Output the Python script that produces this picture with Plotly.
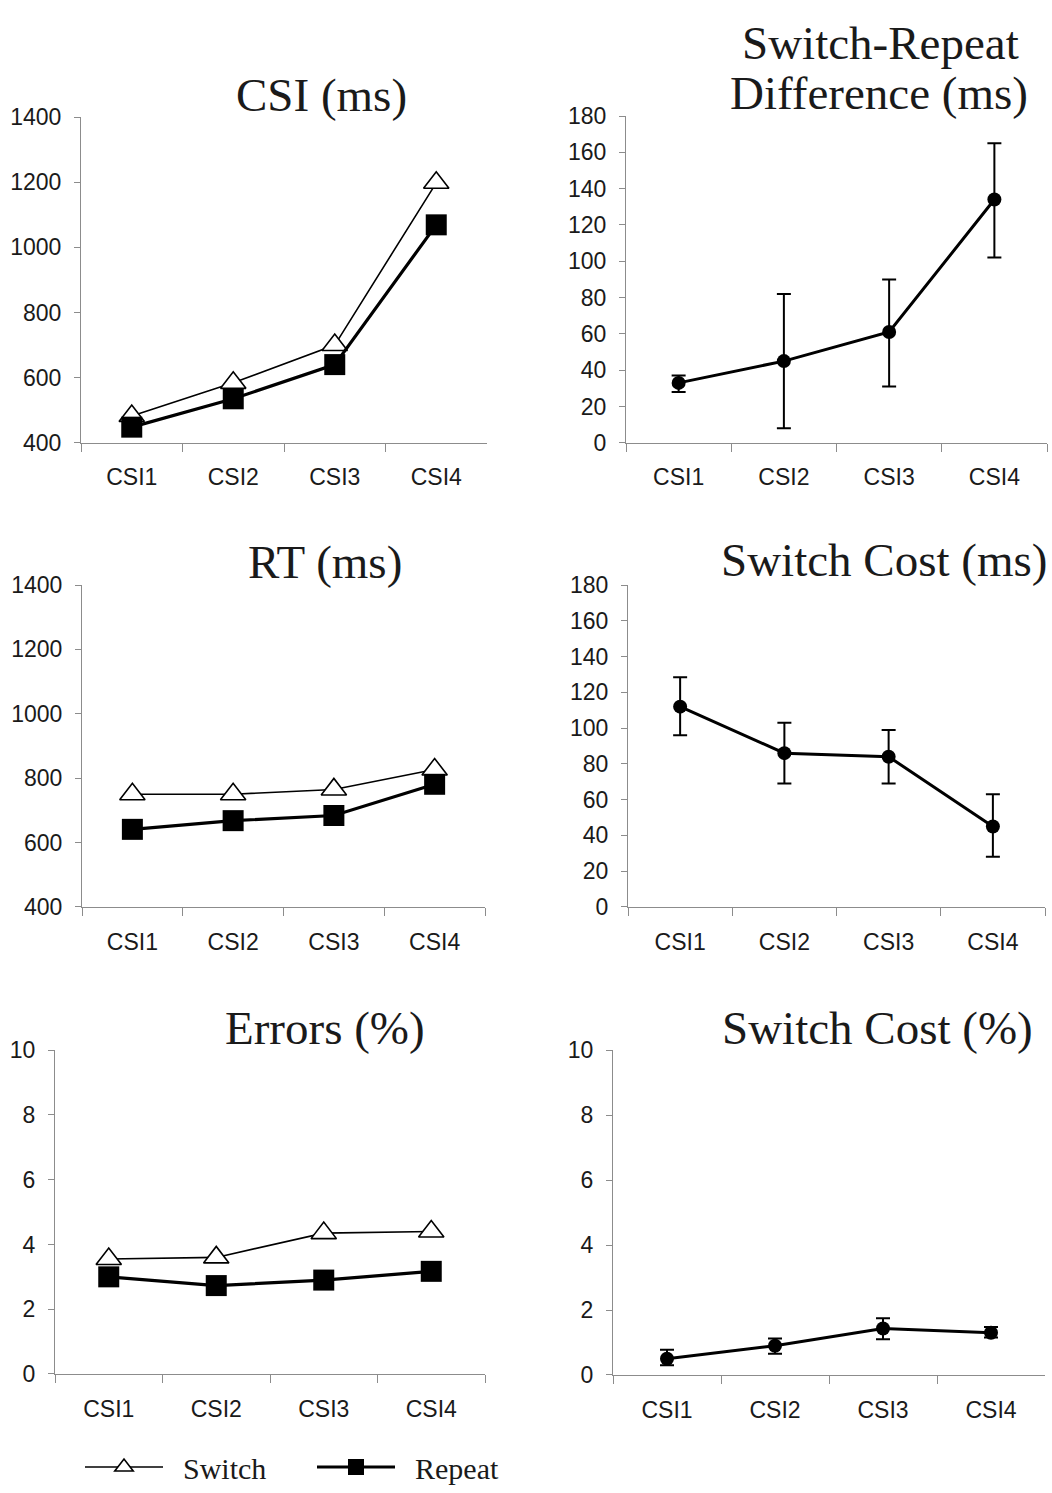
import plotly.graph_objects as go

W, H = 1052, 1493

categories = ["CSI1", "CSI2", "CSI3", "CSI4"]

# Panel A: CSI (ms)
csi_switch = [482, 584, 700, 1198]
csi_repeat = [448, 535, 640, 1069]

# Panel B: Switch-Repeat difference (ms)
diff_mean = [33, 45, 61, 134]
diff_hi = [37, 82, 90, 165]
diff_lo = [28, 8, 31, 102]

# Panel C: RT (ms)
rt_switch = [750, 750, 765, 827]
rt_repeat = [641, 668, 684, 781]

# Panel D: Switch cost (ms)
cost_ms_mean = [112, 86, 84, 45]
cost_ms_hi = [128.5, 103, 99, 63]
cost_ms_lo = [96, 69, 69, 28]

# Panel E: Errors (%)
err_switch = [3.55, 3.6, 4.35, 4.4]
err_repeat = [3.0, 2.73, 2.9, 3.17]

# Panel F: Switch cost (%)
cost_pc_mean = [0.5, 0.9, 1.43, 1.3]
cost_pc_hi = [0.78, 1.12, 1.75, 1.48]
cost_pc_lo = [0.3, 0.65, 1.1, 1.15]

titles = ["CSI (ms)", "Switch-Repeat", "Difference (ms)", "RT (ms)",
          "Switch Cost (ms)", "Errors (%)", "Switch Cost (%)"]
legend_names = ["\u2002Switch", "\u2002Repeat"]


def px_x(x):
    return min(max(x / W, 0), 1)


def px_y(y):
    return min(max(1 - y / H, 0), 1)


def xd(a, b):
    return [px_x(a), px_x(b)]


def yd(top, bot):
    return [px_y(bot), px_y(top)]


panels = [
    dict(x=xd(81, 487), y=yd(106, 438), rng=[400, 1400], dt=200),
    dict(x=xd(626, 1047), y=yd(105, 438), rng=[0, 180], dt=20),
    dict(x=xd(82, 485), y=yd(583, 911), rng=[400, 1400], dt=200),
    dict(x=xd(628, 1045), y=yd(583, 911), rng=[0, 180], dt=20),
    dict(x=xd(55, 485), y=yd(1057, 1387), rng=[0, 10], dt=2),
    dict(x=xd(613, 1045), y=yd(1057, 1388), rng=[0, 10], dt=2),
]

fig = go.Figure()

AX = "#8c8c8c"
tickfont = dict(family="Liberation Sans, Arial, sans-serif", size=23, color="#1a1a1a")


def switch_trace(vals, i, show):
    return go.Scatter(x=categories, y=vals, xaxis=f"x{i}", yaxis=f"y{i}",
                      mode="lines+markers", name=legend_names[0], showlegend=show,
                      legendgroup="s", cliponaxis=False,
                      line=dict(color="black", width=1.6),
                      marker=dict(symbol="triangle-up", size=22, color="white",
                                  line=dict(color="black", width=1.6)))


def repeat_trace(vals, i, show):
    return go.Scatter(x=categories, y=vals, xaxis=f"x{i}", yaxis=f"y{i}",
                      mode="lines+markers", name=legend_names[1], showlegend=show,
                      legendgroup="r", cliponaxis=False,
                      line=dict(color="black", width=3.2),
                      marker=dict(symbol="square", size=21, color="black",
                                  line=dict(color="black", width=0)))


def diff_trace(mean, hi, lo, i):
    return go.Scatter(x=categories, y=mean, xaxis=f"x{i}", yaxis=f"y{i}",
                      mode="lines+markers", showlegend=False, cliponaxis=False,
                      line=dict(color="black", width=3),
                      marker=dict(symbol="circle", size=14, color="black"),
                      error_y=dict(type="data", symmetric=False,
                                   array=[h - m for h, m in zip(hi, mean)],
                                   arrayminus=[m - l for m, l in zip(mean, lo)],
                                   color="black", thickness=2, width=7))


fig.add_trace(switch_trace(csi_switch, 1, False))
fig.add_trace(repeat_trace(csi_repeat, 1, False))
fig.add_trace(diff_trace(diff_mean, diff_hi, diff_lo, 2))
fig.add_trace(switch_trace(rt_switch, 3, False))
fig.add_trace(repeat_trace(rt_repeat, 3, False))
fig.add_trace(diff_trace(cost_ms_mean, cost_ms_hi, cost_ms_lo, 4))
fig.add_trace(switch_trace(err_switch, 5, True))
fig.add_trace(repeat_trace(err_repeat, 5, True))
fig.add_trace(diff_trace(cost_pc_mean, cost_pc_hi, cost_pc_lo, 6))

layout = dict(
    width=W, height=H, margin=dict(l=0, r=0, t=0, b=0),
    paper_bgcolor="white", plot_bgcolor="white",
    showlegend=True,
    legend=dict(orientation="h", x=px_x(80), y=px_y(1482), xanchor="left", yanchor="middle",
                font=dict(family="Liberation Serif, Times New Roman, serif", size=30, color="#1a1a1a"),
                entrywidth=139, entrywidthmode="pixels", itemsizing="trace", itemwidth=78,
                bgcolor="rgba(0,0,0,0)", tracegroupgap=0),
)

for i, p in enumerate(panels, start=1):
    layout[f"xaxis{i}"] = dict(domain=p["x"], anchor=f"y{i}", type="category",
                               range=[-0.5, 3.5], showline=True, linecolor=AX, linewidth=1,
                               ticks="outside", tickson="boundaries", ticklen=8, tickcolor=AX,
                               tickwidth=1, showgrid=False, zeroline=False,
                               tickfont=tickfont, ticklabelstandoff=14, fixedrange=True)
    layout[f"yaxis{i}"] = dict(domain=p["y"], anchor=f"x{i}", range=p["rng"], dtick=p["dt"],
                               tick0=p["rng"][0], showline=True, linecolor=AX, linewidth=1,
                               ticks="outside", ticklen=6, tickcolor=AX, tickwidth=1,
                               showgrid=False, zeroline=False, tickfont=tickfont,
                               ticklabelstandoff=8, fixedrange=True)

title_font = dict(family="Liberation Serif, Times New Roman, serif", size=47, color="#1a1a1a")
title_pos = [(321, 84), (880, 31), (879, 82), (325, 559), (884, 557), (325, 1034), (877, 1034)]
annotations = []
for t, (cx, cy) in zip(titles, title_pos):
    annotations.append(dict(text=t, x=px_x(cx), y=px_y(cy), xref="paper", yref="paper",
                            xanchor="center", yanchor="middle", showarrow=False,
                            font=title_font))
layout["annotations"] = annotations

fig.update_layout(**layout)
fig.write_html("out.html", config={"displayModeBar": False},
               post_script="document.body.style.margin='0';document.body.style.overflow='hidden';")
